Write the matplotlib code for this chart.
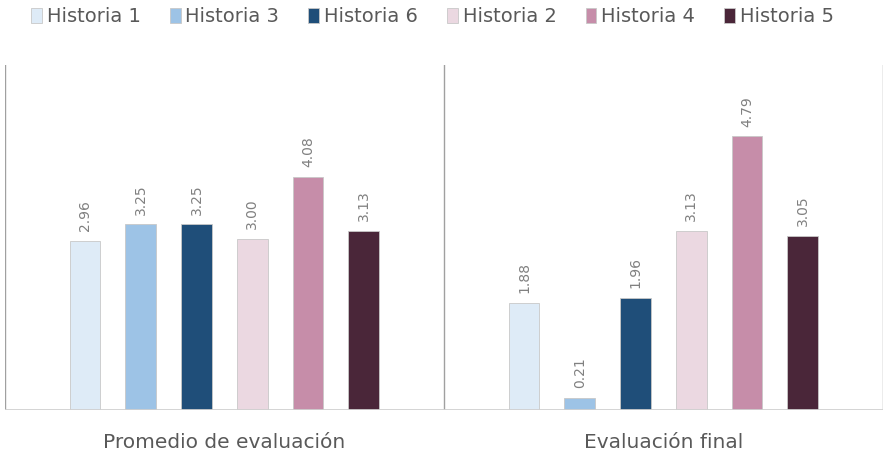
import matplotlib.pyplot as plt
import numpy as np

plt.rcParams['font.family'] = ['DejaVu Sans']

categories = ['Promedio de evaluación', 'Evaluación final']
series = ['Historia 1', 'Historia 3', 'Historia 6', 'Historia 2', 'Historia 4', 'Historia 5']
colors = ['#DEEBF7', '#9DC3E6', '#1F4E79', '#EBD8E1', '#C68DA9', '#4A2639']
values = {
    'Historia 1': [2.96, 1.88],
    'Historia 3': [3.25, 0.21],
    'Historia 6': [3.25, 1.96],
    'Historia 2': [3.00, 3.13],
    'Historia 4': [4.08, 4.79],
    'Historia 5': [3.13, 3.05],
}

fig = plt.figure(figsize=(8.9, 4.57), dpi=100)
ax = fig.add_axes([0.0056, 0.103, 0.9865, 0.755])

x = np.arange(len(categories))
step = 0.127
width = 0.07
for k, name in enumerate(series):
    xs = x + (k - 2.5) * step
    ax.bar(xs, values[name], width=width, color=colors[k], edgecolor='#C8C8C8',
           linewidth=0.6, label=name, zorder=2)
    for xi, v in zip(xs, values[name]):
        ax.text(xi, v + 0.17, f'{v:.2f}', rotation=90, ha='center', va='bottom',
                fontsize=10, color='#808080')

ax.set_xlim(-0.5, 1.5)
ax.set_ylim(0, 6.04)
for s in ax.spines.values():
    s.set_visible(False)
ax.set_yticks([])
ax.set_xticks([])
for xv in [-0.5, 0.5, 1.5]:
    ax.axvline(xv, color='#A0A0A0', lw=1, zorder=1)
ax.axhline(0, color='#D0D0D0', lw=2, zorder=3)
for xi, c in zip(x, categories):
    ax.text(xi, -0.4, c, ha='center', va='top', fontsize=14.5, color='#595959')

ax.legend(loc='center', bbox_to_anchor=(0.487, 1.14), ncol=6, frameon=False,
          fontsize=14, handlelength=0.55, handleheight=0.8, handletextpad=0.25,
          columnspacing=1.5, labelcolor='#595959')

fig.savefig('out.png', dpi=100)
